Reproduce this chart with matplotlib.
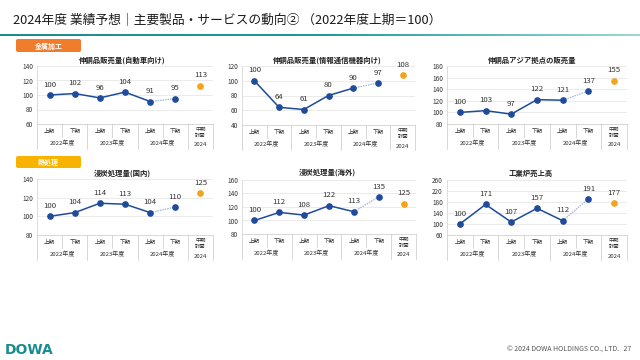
import matplotlib
matplotlib.use("Agg")
import matplotlib.pyplot as plt
import numpy as np
from matplotlib.colors import LinearSegmentedColormap
from matplotlib.patches import FancyBboxPatch

plt.rcParams['font.family'] = ['Noto Sans CJK JP', 'DejaVu Sans']

# ---- data ----
titles = ["伸銅品販売量(自動車向け)", "伸銅品販売量(情報通信機器向け)", "伸銅品アジア拠点の販売量",
          "浸炭処理量(国内)", "浸炭処理量(海外)", "工業炉売上高"]
half_labels = ["上期", "下期", "上期", "下期", "上期", "下期"]
year_labels = ["2022年度", "2023年度", "2024年度"]
plan_label_top = "中期\n計画"
plan_label_year = "2024"

actual_auto = [100, 102, 96, 104, 91, 95]
plan_auto = 113
actual_ict = [100, 64, 61, 80, 90, 97]
plan_ict = 108
actual_asia = [100, 103, 97, 122, 121, 137]
plan_asia = 155
actual_dom = [100, 104, 114, 113, 104, 110]
plan_dom = 125
actual_ovs = [100, 112, 108, 122, 113, 135]
plan_ovs = 125
actual_furn = [100, 171, 107, 157, 112, 191]
plan_furn = 177

series = [(actual_auto, plan_auto), (actual_ict, plan_ict), (actual_asia, plan_asia),
          (actual_dom, plan_dom), (actual_ovs, plan_ovs), (actual_furn, plan_furn)]
yranges = [(60, 140, 20), (40, 120, 20), (80, 180, 20), (80, 140, 20), (80, 160, 20), (60, 260, 40)]
# pixel boxes (x0, x1, ytop, ybottom)
boxes = [(37, 213, 66, 124), (242, 415, 66, 125), (447, 627, 66, 124),
         (37, 213, 179, 235), (242, 416, 180, 234), (447, 627, 180, 235)]
title_pos = [(122, 60), (327, 60), (532, 60), (122, 173), (327, 172), (531, 173)]

W, H = 640, 360
fig = plt.figure(figsize=(6.4, 3.6), dpi=100)
fig.patch.set_facecolor('white')

# overlay axes in pixel coordinates
ov = fig.add_axes([0, 0, 1, 1], zorder=0)
ov.axis('off')

# header
ov.text(13, 20, "2024年度 業績予想｜主要製品・サービスの動向② （2022年度上期＝100）",
        fontsize=9.2, va='center', ha='left', color='#1a1a1a')
grad = np.linspace(0, 1, 256).reshape(1, -1)
cmap = LinearSegmentedColormap.from_list('t', ['#1E8C8C', '#1E9A98', '#9AD8D4'])
ov.imshow(grad, cmap=cmap, extent=(0, 640, 36.5, 34.5), aspect='auto', zorder=1)
ov.set_xlim(0, W)
ov.set_ylim(H, 0)

# section labels
for (x0, y0, x1, y1, col, txt) in [(16, 39, 81, 52, '#EF7D2C', "金属加工"),
                                    (16, 156, 81, 168, '#F8B300', "熱処理")]:
    ov.add_patch(FancyBboxPatch((x0, y0), x1 - x0, y1 - y0,
                                boxstyle="round,pad=0,rounding_size=2",
                                fc=col, ec='none', zorder=2))
    ov.text((x0 + x1) / 2, (y0 + y1) / 2 + 0.5, txt, fontsize=5, color='white',
            ha='center', va='center', fontweight='bold', zorder=3)

# footer
ov.text(5, 350, "DOWA", fontsize=10, fontweight='heavy', color='#1A8C8F',
        ha='left', va='center', family=['DejaVu Sans'])
ov.text(631, 350, "© 2024 DOWA HOLDINGS CO., LTD.   27", fontsize=5, color='#555555',
        ha='right', va='center')

line_col = '#1F4B9B'
light_col = '#9FB5DE'
plan_col = '#F5A31A'

for i, ((act, plan), (ymin, ymax, step), (x0, x1, yt, yb), (tx, ty), title) in enumerate(
        zip(series, yranges, boxes, title_pos, titles)):
    ax = fig.add_axes([x0 / W, 1 - yb / H, (x1 - x0) / W, (yb - yt) / H], zorder=2)
    ax.patch.set_alpha(0)
    xs = np.arange(len(act))
    ax.plot(xs[:5], act[:5], color=line_col, lw=1.1, zorder=3)
    ax.plot(xs[4:6], act[4:6], color=light_col, lw=0.9, ls=(0, (1.2, 0.8)), zorder=3)
    ax.plot(xs, act, 'o', color=line_col, ms=3.8, zorder=4, mec=line_col)
    ax.plot([6], [plan], 'o', color=plan_col, ms=3.8, zorder=4, mec=plan_col)
    for x, v in zip(list(xs) + [6], list(act) + [plan]):
        ax.annotate(str(v), (x, v), xytext=(0, 4.5), textcoords='offset points',
                    ha='center', va='bottom', fontsize=5.6, color='#333333')
    ax.set_xlim(-0.5, 6.5)
    ax.set_ylim(ymin, ymax)
    ax.set_yticks(np.arange(ymin, ymax + 1, step))
    ax.tick_params(axis='y', length=0, labelsize=4.6, pad=3, labelcolor='#333333')
    ax.set_xticks([])
    ax.grid(axis='y', color='#E3E3E3', lw=0.5)
    ax.set_axisbelow(True)
    for s in ['top', 'right']:
        ax.spines[s].set_visible(False)
    ax.spines['left'].set_color('#D0D0D0')
    ax.spines['left'].set_linewidth(0.5)
    ax.spines['bottom'].set_color('#C8C8C8')
    ax.spines['bottom'].set_linewidth(0.5)
    # category labels
    tr = ax.get_xaxis_transform()
    hpx = yb - yt
    for j, lab in enumerate(half_labels):
        ax.text(j, -7.5 / hpx, lab, transform=tr, ha='center', va='center',
                fontsize=4.0, color='#333333')
    for j, lab in enumerate(year_labels):
        ax.text(2 * j + 0.5, -19 / hpx, lab, transform=tr, ha='center', va='center',
                fontsize=4.3, color='#333333')
    ax.text(6, -8.5 / hpx, plan_label_top, transform=tr, ha='center', va='center',
            fontsize=3.8, color='#333333', linespacing=1.3)
    ax.text(6, -21 / hpx, plan_label_year, transform=tr, ha='center', va='center',
            fontsize=4.3, color='#333333')
    for xv in [-0.5, 1.5, 3.5, 5.5, 6.5]:
        ax.plot([xv, xv], [0, -25 / hpx], transform=tr, color='#C8C8C8', lw=0.5, clip_on=False)
    for xv in [0.5, 2.5, 4.5]:
        ax.plot([xv, xv], [0, -13 / hpx], transform=tr, color='#C8C8C8', lw=0.5, clip_on=False)
    ov.text(tx, ty, title, fontsize=5.3, fontweight='bold', ha='center', va='center',
            color='#222222')

fig.savefig("out.png", dpi=100, facecolor='white')
